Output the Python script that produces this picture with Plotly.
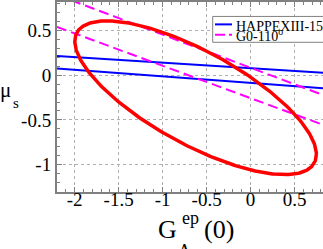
import numpy as np
import plotly.graph_objects as go

# ---- data ----
happex_x = [-2.2, 0.824]
happex_upper_y = [0.214, 0.028]
happex_lower_y = [0.074, -0.146]

g0_x = [-2.2, 0.824]
g0_upper_y = [0.896, -0.222]
g0_lower_y = [0.539, -0.555]

# combined 1-sigma contour: centre, half-extents, correlation
ell_center = (-0.625, -0.2525)
ell_half = (1.3725, 0.8585)
ell_rho = -0.735

x_tickvals = [-2, -1.5, -1, -0.5, 0, 0.5]
x_ticktext = ["-2", "-1.5", "-1", "-0.5", "0", "0.5"]
y_tickvals = [-1, -0.5, 0, 0.5]
y_ticktext = ["-1", "-0.5", "0", "0.5"]

legend_names = ["HAPPEXIII-15<sup>o</sup>", "G0-110<sup>o</sup>"]

# ---- ellipse from the contour parameters ----
phi = np.arccos(ell_rho)
t = np.linspace(0, 2 * np.pi, 400)
ell_x = ell_center[0] + ell_half[0] * np.cos(t)
ell_y = ell_center[1] + ell_half[1] * np.cos(t + phi)

BLUE = "#0000ff"
MAG = "#ff00ff"
RED = "#ff0000"
FONT = "Liberation Serif"

fig = go.Figure()
for yy in (happex_upper_y, happex_lower_y):
    fig.add_trace(go.Scatter(x=happex_x, y=yy, mode="lines",
                             line=dict(color=BLUE, width=2), showlegend=False))
for yy in (g0_upper_y, g0_lower_y):
    fig.add_trace(go.Scatter(x=g0_x, y=yy, mode="lines",
                             line=dict(color=MAG, width=2, dash="10px,5px"), showlegend=False))
fig.add_trace(go.Scatter(x=ell_x, y=ell_y, mode="lines",
                         line=dict(color=RED, width=3.5), showlegend=False))

W, H = 323, 249
L, R, T, B = 57, 0, 1.5, 56.5
pw, ph = W - L - R, H - T - B


def px(x):
    return (x - L) / pw


def py(y):
    return (H - B - y) / ph


axis_common = dict(
    showline=True, linecolor="#808080", linewidth=2,
    ticks="inside", ticklen=5, tickwidth=1, tickcolor="#808080",
    showgrid=True, gridcolor="#b0b0b0", griddash="dot", gridwidth=1,
    zeroline=False,
    tickfont=dict(family=FONT, size=19, color="black"),
)

fig.update_xaxes(range=[-2.2, 0.823], tickvals=x_tickvals, ticktext=x_ticktext,
                 mirror="ticks", ticklabelstandoff=-11,
                 minor=dict(dtick=0.1, ticks="inside", ticklen=3, tickcolor="#808080", showgrid=False),
                 **axis_common)
fig.update_yaxes(range=[-1.305, 0.817], tickvals=y_tickvals, ticktext=y_ticktext,
                 mirror=False,
                 minor=dict(dtick=0.1, ticks="inside", ticklen=3, tickcolor="#808080", showgrid=False),
                 **axis_common)

ann = []


def add_text(text, x, y, size, xanchor="center", yanchor="middle"):
    ann.append(dict(text=text, x=px(x), y=py(y), xref="paper", yref="paper",
                    showarrow=False, xanchor=xanchor, yanchor=yanchor,
                    font=dict(family=FONT, size=size, color="black")))


# x-axis title  G_A^ep(0)
add_text("G", 167.5, 230, 26)
add_text("A", 184, 252, 18)
add_text("ep", 190.5, 218.5, 18)
add_text("(0)", 218.5, 230, 26)
# y-axis title  mu_s
add_text("μ", 5.5, 90, 21)
add_text("s", 16, 103, 15)

# legend (manual)
add_text(legend_names[0], 234, 24.5, 14, xanchor="left")
add_text(legend_names[1], 234, 34.5, 14, xanchor="left")

shapes = [
    dict(type="rect", xref="paper", yref="paper", x0=px(212.7), x1=px(335), y0=py(42), y1=py(16),
         line=dict(color="#808080", width=1), fillcolor="white", layer="above"),
    dict(type="line", xref="paper", yref="paper", x0=px(215), x1=px(232), y0=py(24), y1=py(24),
         line=dict(color=BLUE, width=2), layer="above"),
    dict(type="line", xref="paper", yref="paper", x0=px(215), x1=px(232), y0=py(34.5), y1=py(34.5),
         line=dict(color=MAG, width=2, dash="10px,4px"), layer="above"),
]

fig.update_layout(
    width=W, height=H,
    margin=dict(l=L, r=R, t=T, b=B, pad=0),
    plot_bgcolor="white", paper_bgcolor="white",
    showlegend=False,
    annotations=ann, shapes=shapes,
)

fig.write_html("out.html", config={"displayModeBar": False},
               post_script="document.body.style.margin='0';document.body.style.overflow='hidden';")
